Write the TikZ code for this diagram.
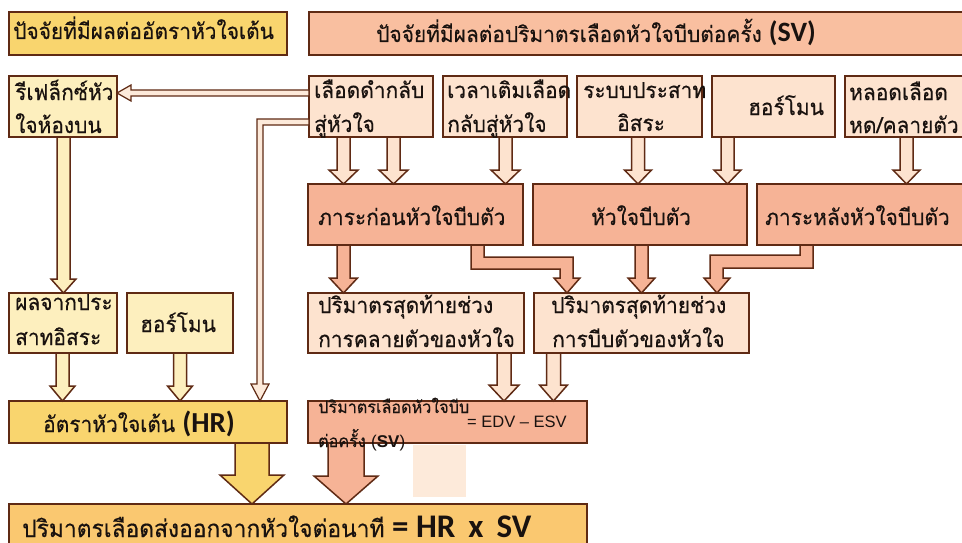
\documentclass[tikz,border=0pt]{standalone}
\usepackage{fontspec}
\newfontfamily\thai[Script=Thai,FakeStretch=0.95,FakeBold=0.4]{Loma}
\newfontfamily\lat{Carlito}
\newfontfamily\ari{Liberation Sans}
\usetikzlibrary{calc}
\definecolor{brd}{RGB}{95,42,20}
\definecolor{gold}{RGB}{249,213,110}
\definecolor{lyel}{RGB}{253,239,190}
\definecolor{salt}{RGB}{249,191,160}
\definecolor{salm}{RGB}{246,179,150}
\definecolor{peach}{RGB}{253,227,207}
\definecolor{orng}{RGB}{250,200,112}
\definecolor{patch}{RGB}{253,234,218}
\definecolor{ink}{RGB}{25,18,15}
\newcommand\thfs{\thai\fontsize{22}{26}\selectfont}
\newcommand\bx[6]{\node[box,fill=#6,minimum width={#4pt-#2pt},minimum height={#5pt-#3pt}] (#1) at (#2,#3) {};}
\newcommand\varr[7]{\path[#1] let \p1=(#3.south), \p2=(#4.north) in
 (#2pt-#5pt,\y1) -- (#2pt-#5pt,\y2+#7pt) -- (#2pt-#6pt,\y2+#7pt) -- (#2pt,\y2) -- (#2pt+#6pt,\y2+#7pt) -- (#2pt+#5pt,\y2+#7pt) -- (#2pt+#5pt,\y1) -- cycle;}
\begin{document}
\begin{tikzpicture}[x=1pt,y=-1pt,
  box/.style={draw=brd,line width=1.6pt,anchor=north west,inner sep=0pt,outer sep=0pt},
  tx/.style={anchor=base west,inner sep=0pt,text=ink,font=\thfs},
  arp/.style={draw=brd,line width=1.5pt,fill=peach,line join=miter},
  ars/.style={draw=brd,line width=1.5pt,fill=salm,line join=miter},
  ary/.style={draw=brd,line width=1.5pt,fill=lyel,line join=miter},
  arg/.style={draw=brd,line width=1.5pt,fill=gold,line join=miter},
  arthin/.style={draw=brd,line width=1.2pt,fill=patch,line join=miter}]
\useasboundingbox (0,0) rectangle (962,543);
\fill[white] (0,0) rectangle (962,543);
% boxes
\bx{tl}{9}{12}{287}{55}{gold}
\bx{tr}{309}{12}{970}{55}{salt}
\bx{b3}{9}{76}{117}{137}{lyel}
\bx{b4}{309}{76}{433}{137}{peach}
\bx{b5}{443}{76}{567}{137}{peach}
\bx{b6}{577}{76}{702}{137}{peach}
\bx{b7}{712}{76}{835}{137}{peach}
\bx{b8}{845}{76}{970}{137}{peach}
\bx{b9}{308}{184}{523}{245}{salm}
\bx{b10}{533}{184}{747}{245}{salm}
\bx{b11}{757}{184}{970}{245}{salm}
\bx{b12}{308}{293}{524}{353}{peach}
\bx{b13}{534}{293}{749}{353}{peach}
\bx{b14}{9}{293}{117}{353}{lyel}
\bx{b15}{127}{293}{233}{353}{lyel}
\bx{hr}{9}{401}{287}{443}{gold}
\bx{sv}{308}{401}{587}{443}{salm}
\bx{out}{9}{504}{587}{560}{orng}
\fill[patch] (413,444.5) rectangle (466,497);
% arrows row2 -> row3
\varr{arp}{343.5}{b4}{b9}{6.5}{14.5}{14}
\varr{arp}{393.5}{b4}{b9}{6.5}{14.5}{14}
\varr{arp}{505.5}{b5}{b9}{6.5}{14.5}{14}
\varr{arp}{638}{b6}{b10}{6.5}{13.5}{14}
\varr{arp}{727.5}{b7}{b10}{6.5}{13.5}{14}
\varr{arp}{906.5}{b8}{b11}{6.5}{13.5}{14}
% row3 -> row4
\varr{ars}{343.5}{b9}{b12}{6.5}{14}{15}
\varr{ars}{641.5}{b10}{b13}{6.5}{13.5}{15}
\path[ars] let \p1=(b9.south), \p2=(b13.north) in
 (471pt,\y1) -- (471pt,-269pt) -- (560pt,-269pt) -- (560pt,\y2+15pt) -- (554pt,\y2+15pt) -- (567pt,\y2) -- (580pt,\y2+15pt) -- (573pt,\y2+15pt) -- (573pt,-257pt) -- (484pt,-257pt) -- (484pt,\y1) -- cycle;
\path[ars] let \p1=(b11.south), \p2=(b13.north) in
 (800pt,\y1) -- (800pt,-255pt) -- (710pt,-255pt) -- (710pt,\y2+15pt) -- (704pt,\y2+15pt) -- (717pt,\y2) -- (730pt,\y2+15pt) -- (723pt,\y2+15pt) -- (723pt,-268pt) -- (813pt,-268pt) -- (813pt,\y1) -- cycle;
% row4 -> SV
\varr{arp}{504}{b12}{sv}{7}{15}{16}
\varr{arp}{553.5}{b13}{sv}{7}{14}{16}
% left column
\varr{ary}{63.5}{b3}{b14}{6.5}{12.5}{14}
\varr{ary}{62.5}{b14}{hr}{6.5}{12.5}{15}
\varr{ary}{180}{b15}{hr}{6.5}{12.5}{15}
% thin arrows
\path[arthin] let \p1=(b4.west), \p2=(b3.east) in
 (\x1,-90pt) -- (\x2+14pt,-90pt) -- (\x2+14pt,-85pt) -- (\x2,-93pt) -- (\x2+14pt,-101pt) -- (\x2+14pt,-96pt) -- (\x1,-96pt) -- cycle;
\path[arthin] let \p1=(b4.west), \p2=(hr.north) in
 (\x1,-119pt) -- (257pt,-119pt) -- (257pt,\y2+17pt) -- (251pt,\y2+17pt) -- (260pt,\y2) -- (269pt,\y2+17pt) -- (263pt,\y2+17pt) -- (263pt,-125pt) -- (\x1,-125pt) -- cycle;
% big arrows
\varr{arg}{252}{hr}{out}{17}{32}{29}
\varr{ars}{346}{sv}{out}{18}{32}{28}
% texts
\node[tx] (ttl) at (13,39) {ปัจจัยที่มีผลต่ออัตราหัวใจเต้น};
\node[tx] (ttr) at (376,42) {ปัจจัยที่มีผลต่อปริมาตรเลือดหัวใจบีบต่อครั้ง {\lat\bfseries\fontsize{28}{30}\selectfont (SV)}};
\node[tx] (t3a) at (15,100) {รีเฟล็กซ์หัว};
\node[tx] (t3b) at (15,133) {ใจห้องบน};
\node[tx] (t4a) at (314,98) {เลือดดำกลับ};
\node[tx] (t4b) at (314,132) {สู่หัวใจ};
\node[tx] (t5a) at (447,98) {เวลาเติมเลือด};
\node[tx] (t5b) at (447,132) {กลับสู่หัวใจ};
\node[tx] (t6a) at (583,98) {ระบบประสาท};
\node[tx] (t6b) at (617,131) {อิสระ};
\node[tx] (t7) at (748,115) {ฮอร์โมน};
\node[tx] (t8a) at (849,100) {หลอดเลือด};
\node[tx] (t8b) at (849,133) {หด/คลายตัว};
\node[tx] (t9) at (318,225) {ภาระก่อนหัวใจบีบตัว};
\node[tx] (t10) at (591,225) {หัวใจบีบตัว};
\node[tx] (t11) at (765,225) {ภาระหลังหัวใจบีบตัว};
\node[tx] (t12a) at (318,313) {ปริมาตรสุดท้ายช่วง};
\node[tx] (t12b) at (318,347) {การคลายตัวของหัวใจ};
\node[tx] (t13a) at (551,313) {ปริมาตรสุดท้ายช่วง};
\node[tx] (t13b) at (552,347) {การบีบตัวของหัวใจ};
\node[tx] (t14a) at (15,310) {ผลจากประ};
\node[tx] (t14b) at (15,345) {สาทอิสระ};
\node[tx] (t15) at (140,332) {ฮอร์โมน};
\node[tx] (thr) at (43,432) {อัตราหัวใจเต้น {\lat\bfseries\fontsize{29}{30}\selectfont (HR)}};
\node[tx,font=\thai\fontsize{17}{20}\selectfont] (tsva) at (318,413) {ปริมาตรเลือดหัวใจบีบ};
\node[tx,font=\thai\fontsize{17}{20}\selectfont] (tsvb) at (318,447) {ต่อครั้ง {\ari(\textbf{SV})}};
\node[tx,font=\ari\fontsize{16.5}{18}\selectfont] (tsvc) at (467,427) {= EDV – ESV};
\node[tx,font=\thai\fontsize{24}{28}\selectfont] (tout) at (22,537) {ปริมาตรเลือดส่งออกจากหัวใจต่อนาที {\lat\bfseries\fontsize{33}{36}\selectfont = HR\, x\, SV}};
\end{tikzpicture}
\end{document}
